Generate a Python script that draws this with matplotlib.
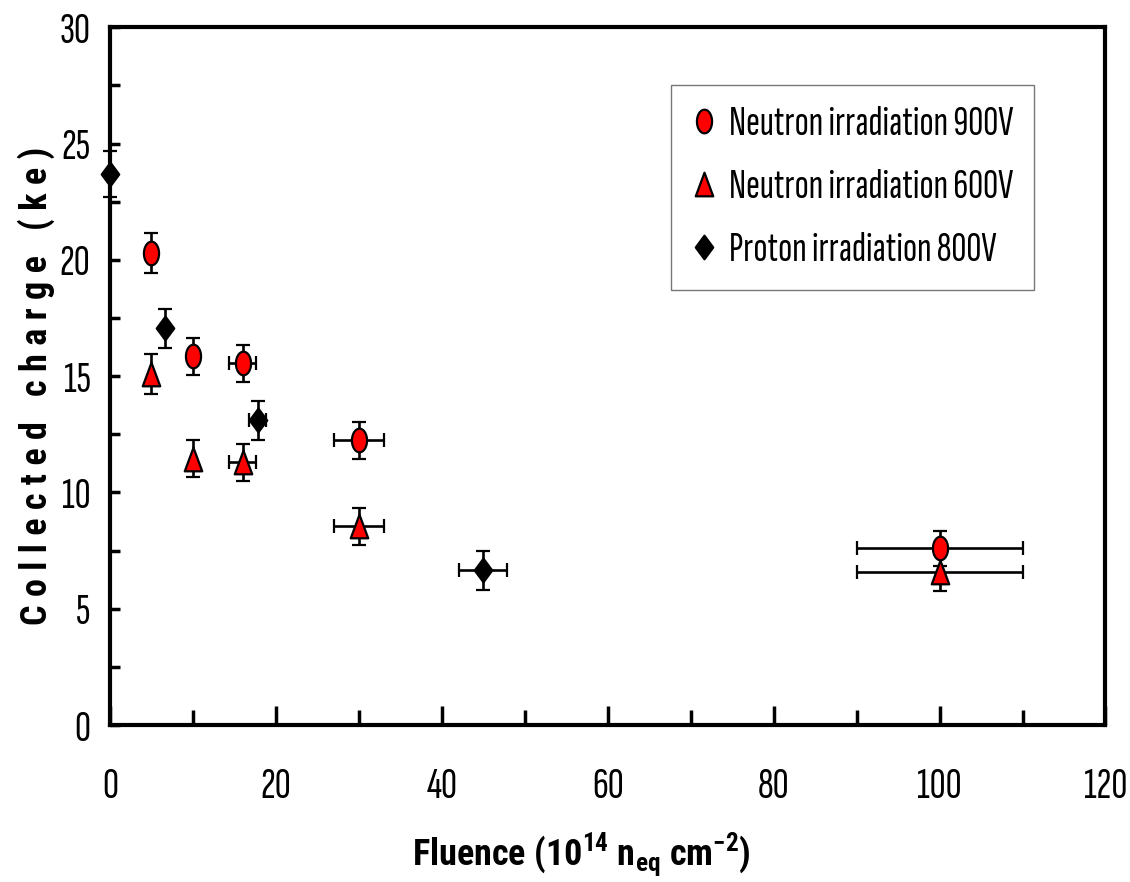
import matplotlib
matplotlib.use("Agg")
import matplotlib.pyplot as plt
import numpy as np
from matplotlib import font_manager
from matplotlib.path import Path
from matplotlib.lines import Line2D
from matplotlib.ticker import MultipleLocator

installed = {f.name for f in font_manager.fontManager.ttflist}


def pick(*fams):
    for f in fams:
        if f in installed:
            return f
    return 'Liberation Sans'


narrow = pick('Sofia Sans Extra Condensed', 'Pathway Gothic One', 'Roboto Condensed')
narrow_bold = pick('Roboto Condensed', 'Barlow Condensed', 'PT Sans Narrow')

plt.rcParams['font.family'] = [narrow, 'DejaVu Sans']
plt.rcParams['mathtext.fontset'] = 'custom'
plt.rcParams['mathtext.rm'] = narrow_bold + ':bold'
plt.rcParams['mathtext.bf'] = narrow_bold + ':bold'

# data
n900_x = [5, 10, 16, 30, 100]
n900_y = [20.3, 15.85, 15.55, 12.25, 7.6]
n900_xerr = [0, 0, 1.6, 3, 10]
n900_yerr = [0.85, 0.8, 0.8, 0.8, 0.75]

n600_x = [5, 10, 16, 30, 100]
n600_y = [15.1, 11.45, 11.3, 8.55, 6.6]
n600_xerr = [0, 0, 1.6, 3, 10]
n600_yerr = [0.85, 0.8, 0.8, 0.8, 0.85]

p800_x = [0, 6.6, 17.8, 45]
p800_y = [23.7, 17.05, 13.1, 6.65]
p800_xerr = [0, 0, 1, 2.9]
p800_yerr = [1.0, 0.85, 0.85, 0.85]

labels = ["Neutron irradiation 900V", "Neutron irradiation 600V", "Proton irradiation 800V"]

# narrow markers (the original looks horizontally squeezed)
t = np.linspace(0, 2 * np.pi, 60)
ellipse = Path(np.column_stack([0.32 * np.cos(t), 0.5 * np.sin(t)]), closed=True)
tri = Path([(-0.37, -0.5), (0.37, -0.5), (0, 0.5), (-0.37, -0.5)], closed=True)
diam = Path([(0, -0.5), (0.37, 0), (0, 0.5), (-0.37, 0), (0, -0.5)], closed=True)

fig = plt.figure(figsize=(11.3, 8.82), dpi=100)
ax = fig.add_axes([0.0973, 0.178, 0.881, 0.791])

ebkw = dict(ls='none', ecolor='black', elinewidth=1.9, capsize=5, capthick=2.3,
            markeredgecolor='black', markeredgewidth=1.6, markersize=17)
series = [
    (n900_x, n900_y, n900_xerr, n900_yerr, ellipse, 'red'),
    (n600_x, n600_y, n600_xerr, n600_yerr, tri, 'red'),
    (p800_x, p800_y, p800_xerr, p800_yerr, diam, 'black'),
]
for x, y, xe, ye, m, c in series:
    cont = ax.errorbar(x, y, xerr=xe, yerr=ye, marker=m, markerfacecolor=c, **ebkw)
    for a in cont.get_children():
        a.set_clip_on(False)

ax.set_xlim(0, 120)
ax.set_ylim(0, 30)
ax.xaxis.set_major_locator(MultipleLocator(20))
ax.xaxis.set_minor_locator(MultipleLocator(10))
ax.yaxis.set_major_locator(MultipleLocator(5))
ax.yaxis.set_minor_locator(MultipleLocator(2.5))
ax.tick_params(which='both', direction='in', width=2.5, labelsize=32)
ax.tick_params(axis='x', which='major', length=14, pad=30)
ax.tick_params(axis='x', which='minor', length=11)
ax.tick_params(axis='y', which='both', length=7, pad=14)
for s in ax.spines.values():
    s.set_linewidth(3)

ax.set_xlabel("Fluence (10$^{\\mathbf{14}}$ n$_{\\mathbf{eq}}$ cm$^{\\mathbf{-2}}$)",
              fontsize=26, fontweight='bold', family=narrow_bold, va='center')
ax.xaxis.set_label_coords(0.474, -0.186)
ax.set_ylabel("C o l l e c t e d   c h a r g e   ( k e )", fontsize=26,
              fontweight='bold', family=narrow_bold, va='center')
ax.yaxis.set_label_coords(-0.074, 0.486)

mk = dict(ls='none', markersize=17, markeredgecolor='black', markeredgewidth=1.6)
handles = [
    Line2D([], [], marker=ellipse, markerfacecolor='red', **mk),
    Line2D([], [], marker=tri, markerfacecolor='red', **mk),
    Line2D([], [], marker=diam, markerfacecolor='black', **mk),
]
leg = ax.legend(handles, labels, loc='upper right', bbox_to_anchor=(0.9286, 0.917),
                fontsize=30, frameon=True, fancybox=False, edgecolor='#555555',
                handlelength=0.6, handletextpad=0.3, labelspacing=0.62,
                borderpad=0.5, borderaxespad=0)
leg.get_frame().set_linewidth(1)

fig.savefig("out.png", dpi=100)
